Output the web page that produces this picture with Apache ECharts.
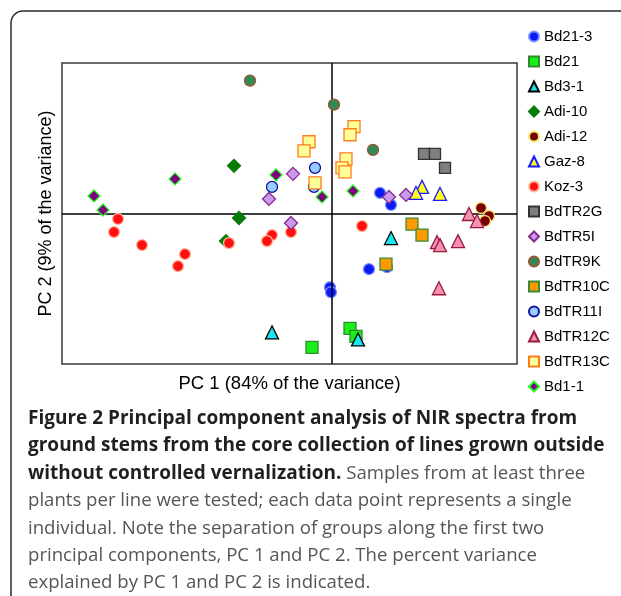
<!DOCTYPE html>
<html><head><meta charset="utf-8">
<script src="https://cdn.jsdelivr.net/npm/echarts@6/dist/echarts.min.js"></script>
<style>html,body{margin:0;padding:0;background:#fff}#c{width:621px;height:596px}</style>
</head><body><div id="c"></div>
<script>
// PC1, PC2 scores (arbitrary units)
const bd21_3 = [[0.96,0.41],[1.18,0.17],[-0.04,-1.47],[-0.02,-1.57],[0.74,-1.11],[1.10,-1.07]];
const bd21 = [[0.36,-2.29],[0.48,-2.45],[-0.40,-2.67]];
const bd3_1 = [[1.18,-0.49],[0.52,-2.51],[-1.20,-2.37]];
const adi10 = [[-1.96,0.95],[-1.86,-0.09],[-2.12,-0.55]];
const adi12 = [[2.98,0.11],[3.14,-0.05],[3.06,-0.15]];
const gaz8 = [[1.80,0.53],[1.68,0.41],[2.16,0.39]];
const koz3 = [[-4.28,-0.11],[-4.36,-0.37],[-3.80,-0.63],[-2.94,-0.81],[-3.08,-1.05],[-2.06,-0.59],[-1.20,-0.43],[-1.30,-0.55],[-0.82,-0.37],[0.60,-0.25]];
const bdTR2G = [[1.84,1.19],[2.06,1.19],[2.26,0.91]];
const bdTR5I = [[-0.78,0.79],[-1.26,0.29],[-0.82,-0.19],[1.14,0.33],[1.48,0.37]];
const bdTR9K = [[-1.64,2.65],[0.04,2.17],[0.82,1.27]];
const bdTR10C = [[1.60,-0.21],[1.80,-0.43],[1.08,-1.01]];
const bdTR11I = [[-1.20,0.53],[-0.34,0.91],[-0.36,0.53]];
const bdTR12C = [[2.74,-0.01],[2.90,-0.15],[2.10,-0.57],[2.16,-0.63],[2.52,-0.55],[2.14,-1.49]];
const bdTR13C = [[-0.46,1.43],[-0.56,1.25],[-0.34,0.61],[0.44,1.73],[0.36,1.57],[0.28,1.09],[0.20,0.91],[0.26,0.83]];
const bd1_1 = [[-3.14,0.69],[-4.76,0.35],[-4.58,0.07],[-1.12,0.77],[-0.20,0.33],[0.42,0.45]];

const lineNames = ['Bd21-3','Bd21','Bd3-1','Adi-10','Adi-12','Gaz-8','Koz-3','BdTR2G','BdTR5I','BdTR9K','BdTR10C','BdTR11I','BdTR12C','BdTR13C','Bd1-1'];
const lineData = [bd21_3,bd21,bd3_1,adi10,adi12,gaz8,koz3,bdTR2G,bdTR5I,bdTR9K,bdTR10C,bdTR11I,bdTR12C,bdTR13C,bd1_1];
const xTitle = 'PC 1 (84% of the variance)';
const yTitle = 'PC 2 (9% of the variance)';

const styles = [
  {symbol:'circle', size:11, fill:'#0a1af5', border:'#7a90ff'},
  {symbol:'rect', size:12, fill:'#19f019', border:'#2f8a2f'},
  {symbol:'triangle', size:13, fill:'#19e6ee', border:'#000000'},
  {symbol:'diamond', size:13, fill:'#087a08', border:'#087a08'},
  {symbol:'circle', size:11, fill:'#7a0000', border:'#f3ec70'},
  {symbol:'triangle', size:13, fill:'#ffff1a', border:'#1a1aff'},
  {symbol:'circle', size:11, fill:'#ff1010', border:'#ffb89a'},
  {symbol:'rect', size:11, fill:'#7f7f7f', border:'#333333'},
  {symbol:'diamond', size:13, fill:'#c999ee', border:'#8a2a8a'},
  {symbol:'circle', size:11, fill:'#2e8b57', border:'#a0522d'},
  {symbol:'rect', size:12, fill:'#ff9900', border:'#3a8a3a'},
  {symbol:'circle', size:11, fill:'#99ccff', border:'#12129a'},
  {symbol:'triangle', size:13, fill:'#f590b5', border:'#9a1a3a'},
  {symbol:'rect', size:12, fill:'#ffff99', border:'#ff7a1a'},
  {symbol:'diamond', size:12, fill:'#800080', border:'#22ff22'}
];

const series = lineNames.map((n,i)=>({
  name:n, type:'scatter', data:lineData[i], symbol:styles[i].symbol, symbolSize:styles[i].size,
  itemStyle:{color:styles[i].fill, borderColor:styles[i].border, borderWidth:1.3, opacity:1},
  emphasis:{disabled:true}, z:2+i
}));
series[0].markLine = {
  silent:true, symbol:'none', label:{show:false}, animation:false,
  lineStyle:{color:'#000', width:1.5, type:'solid'},
  data:[{xAxis:0},{yAxis:0}]
};

const chart = echarts.init(document.getElementById('c'), null, {renderer:'canvas'});
const capFont = '"Open Sans", sans-serif';
const caption = [
  '{b|Figure 2 Principal component analysis of NIR spectra from}',
  '{b|ground stems from the core collection of lines grown outside}',
  '{b|without controlled vernalization.}{n| Samples from at least three}',
  '{n|plants per line were tested; each data point represents a single}',
  '{n|individual. Note the separation of groups along the first two}',
  '{n|principal components, PC 1 and PC 2. The percent variance}',
  '{n|explained by PC 1 and PC 2 is indicated.}'
];
const capY = [419,446,474,501,529,556,583];
const rich = {
  b:{fontFamily:capFont, fontSize:19, fontWeight:'bold', fill:'#231f20', color:'#231f20'},
  n:{fontFamily:capFont, fontSize:18.6, fill:'#555', color:'#555'}
};
const graphics = [{
  type:'rect', shape:{x:11,y:11,width:700,height:700,r:[12,0,0,0]},
  style:{fill:'none', stroke:'#2a2a2a', lineWidth:1.5}, silent:true
}].concat(caption.map((t,i)=>({
  type:'text', x:28, y:capY[i], silent:true,
  style:{text:t, rich:rich, verticalAlign:'middle', align:'left'}
})));

chart.setOption({
  animation:false,
  backgroundColor:'#fff',
  grid:{left:62, top:63, width:455, height:301, show:true, borderColor:'#3a3a3a', borderWidth:1.5, backgroundColor:'transparent'},
  xAxis:{type:'value', min:-5.4, max:3.7, name:xTitle, nameLocation:'middle', nameGap:10,
    nameTextStyle:{fontFamily:'Liberation Sans', fontSize:18.5, color:'#000', verticalAlign:'top'},
    axisLine:{show:false, onZero:false}, axisTick:{show:false}, axisLabel:{show:false}, splitLine:{show:false}},
  yAxis:{type:'value', min:-3, max:3, name:yTitle, nameLocation:'middle', nameGap:7,
    nameTextStyle:{fontFamily:'Liberation Sans', fontSize:18, color:'#000'},
    axisLine:{show:false, onZero:false}, axisTick:{show:false}, axisLabel:{show:false}, splitLine:{show:false}},
  legend:{orient:'vertical', left:528, top:28, padding:0, itemWidth:10, itemHeight:10, itemGap:8,
    data:lineNames, selectedMode:false,
    textStyle:{fontFamily:'Liberation Sans', fontSize:15, color:'#000', lineHeight:17}},
  graphic:graphics,
  series:series
});
</script></body></html>
